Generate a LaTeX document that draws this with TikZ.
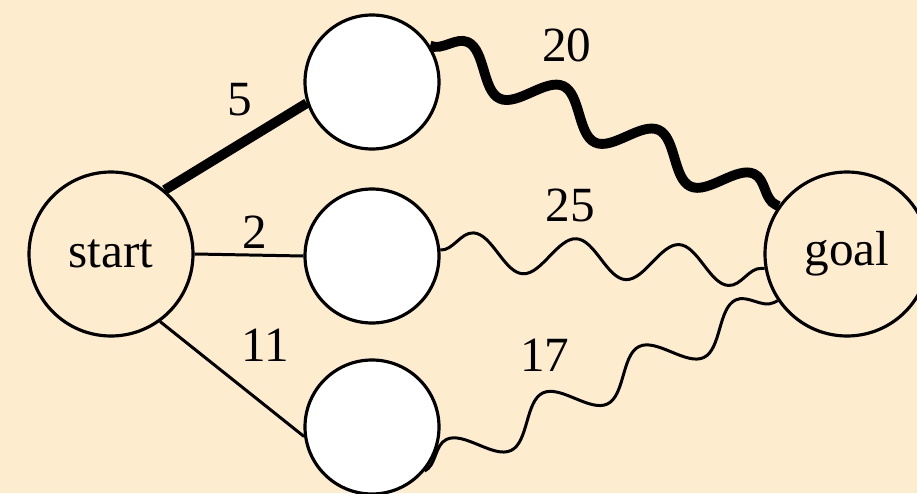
\documentclass[tikz,border=0pt]{standalone}
\usepackage{fontspec}
\newfontfamily\graphfont{Liberation Serif}
\definecolor{bgpeach}{RGB}{253, 236, 205}
\usepackage{tikz}
\usetikzlibrary{positioning, calc, decorations.pathmorphing}

\begin{document}
\begin{tikzpicture}[
    font=\graphfont\fontsize{14}{16}\selectfont,
    endpt/.style={draw, circle, line width=0.9pt, minimum size=1.64cm, inner sep=0pt},
    midpt/.style={draw, circle, fill=white, line width=0.9pt, minimum size=1.34cm, inner sep=0pt},
    wgt/.style={inner sep=1pt},
    wavy/.style={decorate, decoration={snake, segment length=#1, amplitude=0.19cm}},
    thin edge/.style={line width=0.85pt},
    best edge/.style={line width=2.8pt}
  ]
  % canvas
  \clip (0, 0) rectangle (9.17, 4.93);
  \fill[bgpeach] (0, 0) rectangle (9.17, 4.93);

  % nodes
  \node[endpt] (start) at (1.11, 2.39) {start};
  \node[midpt] (top) at (3.72, 4.11) {};
  \node[midpt] (mid) at (3.72, 2.37) {};
  \node[midpt] (bot) at (3.72, 0.66) {};
  \node[endpt] (goal) at (8.47, 2.39) {goal};

  % first hop
  \draw[best edge] (start.50) -- (top.198);
  \draw[thin edge] (start.east) -- (mid.west);
  \draw[thin edge] (start.-54) -- (bot.188);

  % remaining paths
  \draw[best edge, wavy=1.05cm] (top.32) -- (goal.145);
  \draw[thin edge, wavy=1.03cm] (mid.5) -- (goal.190);
  \draw[thin edge, wavy=1.07cm] (bot.-40) -- (goal.214);

  % weights
  \node[wgt] (w5) at (2.40, 3.93) {5};
  \node[wgt] (w2) at (2.55, 2.61) {2};
  \node[wgt] (w11) at (2.65, 1.48) {11};
  \node[wgt] (w20) at (5.67, 4.48) {20};
  \node[wgt] (w25) at (5.70, 2.88) {25};
  \node[wgt] (w17) at (5.45, 1.38) {17};
\end{tikzpicture}
\end{document}
